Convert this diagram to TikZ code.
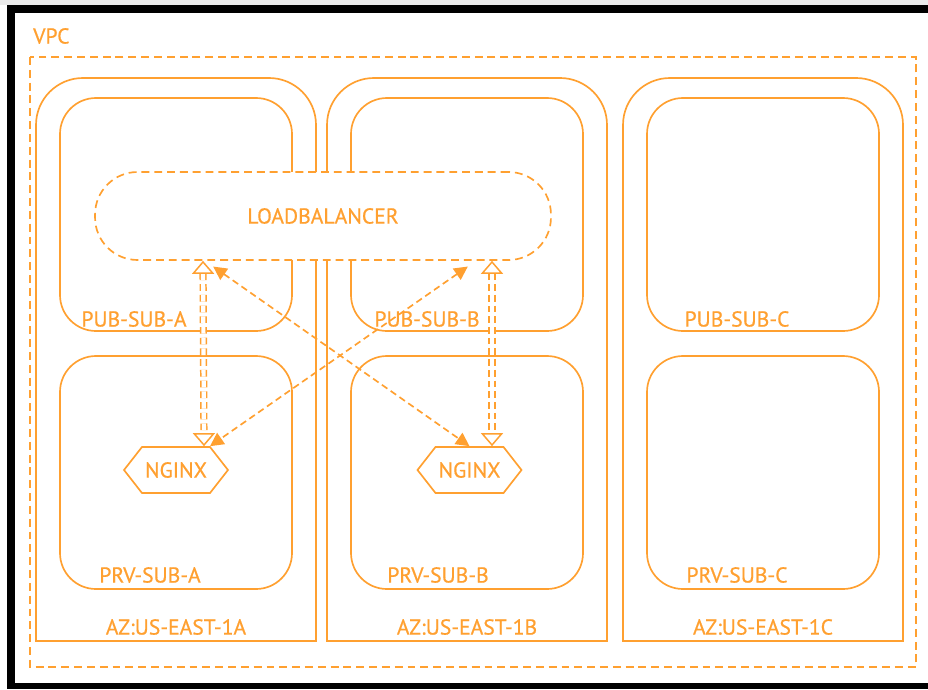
\documentclass[tikz,border=0pt]{standalone}
\usepackage{fontspec}
\setmainfont{PT Sans}
\newfontfamily\labelfont{PT Sans}[FakeBold=0.6]
\usetikzlibrary{arrows.meta,shapes.symbols,positioning}
\definecolor{awsorange}{RGB}{255,160,48}

\begin{document}
\begin{tikzpicture}[x=0.02cm,y=-0.02cm]
\tikzstyle{every node}=[font=\labelfont\fontsize{12.3}{14}\selectfont, text=awsorange]
\tikzstyle{box}=[draw=awsorange, line width=0.95pt]
\tikzstyle{dashbox}=[box, dash pattern=on 4.5pt off 2.8pt]
\tikzstyle{lbbox}=[dashbox, fill=white, rounded corners=0.85cm, minimum width=9.12cm, minimum height=1.76cm]
\tikzstyle{hexa}=[box, signal, signal to=east and west, signal pointer angle=104, minimum width=2.08cm, minimum height=0.92cm, inner sep=0pt]
\tikzstyle{link}=[awsorange, line width=0.95pt, dash pattern=on 3.8pt off 2.3pt, {Triangle[length=0.27cm,width=0.27cm]}-{Triangle[length=0.27cm,width=0.27cm]}]
\tikzstyle{dlink}=[awsorange, line width=0.85pt, double=white, double distance=2.4pt, dash pattern=on 3.8pt off 2.3pt, {Triangle[open,length=0.26cm,width=0.44cm]}-{Triangle[open,length=0.26cm,width=0.44cm]}]
\useasboundingbox (0,0) rectangle (928,689);
% frame
\fill[black!8] (0,0) rectangle (928,5);
\fill[black] (7,5) rectangle (928,689);
\fill[white] (15,13) rectangle (928,683);
% vpc
\draw[dashbox] (30,57) rectangle (916,667);
\node[anchor=west] (vpc) at (27,36) {VPC};
% zones and subnets
\foreach \x in {36,327,623} {
  \draw[box, rounded corners=0.94cm] (\x,641) -- (\x,78) -- (\x+280,78) -- (\x+280,641);
  \draw[box, line cap=rect] (\x,641) -- (\x+280,641);
  \draw[box, rounded corners=0.72cm] (\x+24,98) rectangle (\x+256,331);
  \draw[box, rounded corners=0.72cm] (\x+24,356) rectangle (\x+256,589);
}
\node (pubA) at (134,319) {PUB-SUB-A};
\node (pubB) at (427,319) {PUB-SUB-B};
\node (pubC) at (737,319) {PUB-SUB-C};
\node (prvA) at (150,575) {PRV-SUB-A};
\node (prvB) at (438,575) {PRV-SUB-B};
\node (prvC) at (737,575) {PRV-SUB-C};
\node (azA) at (176,627) {AZ:US-EAST-1A};
\node (azB) at (467,627) {AZ:US-EAST-1B};
\node (azC) at (763,627) {AZ:US-EAST-1C};
% load balancer and servers
\node[lbbox] (lb) at (323,216) {LOADBALANCER};
\node[hexa] (nginxA) at (176,470) {NGINX};
\node[hexa] (nginxB) at (469.5,470) {NGINX};
% traffic
\draw[dlink] (203,0 |- lb.south) -- (204,0 |- nginxA.north);
\draw[dlink] (492,0 |- lb.south) -- (492,0 |- nginxB.north);
\draw[link, shorten <=0.2cm] (205,0 |- lb.south) -- (nginxB.north);
\draw[link, shorten <=0.2cm] (476,0 |- lb.south) -- (210,0 |- nginxA.north);
\end{tikzpicture}
\end{document}
